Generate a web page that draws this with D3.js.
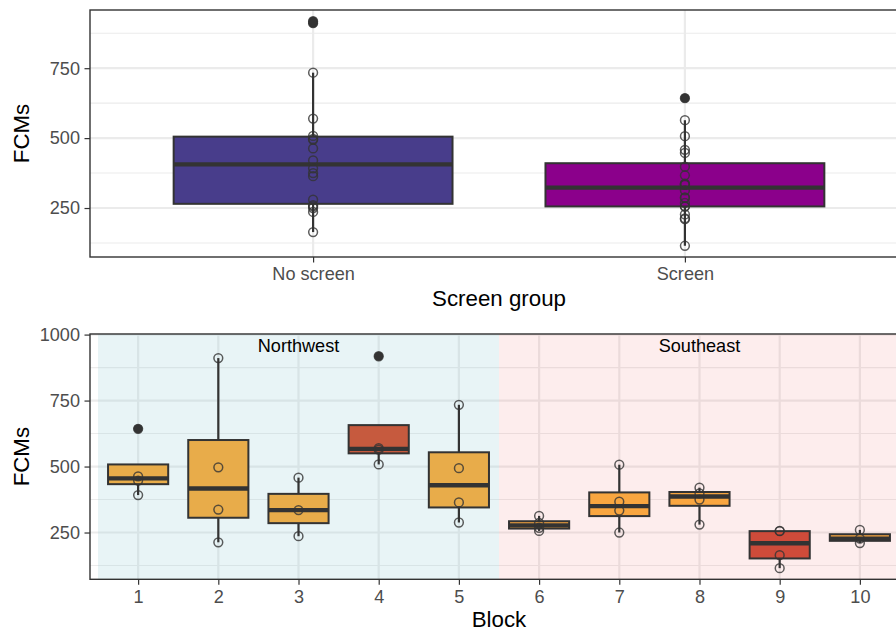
<!DOCTYPE html>
<html>
<head>
<meta charset="utf-8">
<script src="https://cdn.jsdelivr.net/npm/d3@7"></script>
<style>
  html, body { margin: 0; padding: 0; background: #fff; }
  svg { display: block; font-family: "Liberation Sans", Arial, sans-serif; }
</style>
</head>
<body>
<svg id="chart" width="896" height="631"></svg>
<script>
// ---------------- data ----------------
const screenGroups = ["No screen", "Screen"];
const noScreenFCM = [164, 236, 250, 256, 260, 280, 364, 375, 392, 420, 463, 494, 497, 508, 570, 734, 911, 918];
const screenFCM = [115, 210, 213, 227, 255, 256, 268, 286, 288, 313, 333, 335, 337, 367, 398, 447, 458, 507, 564, 643];

const blocks = [1, 2, 3, 4, 5, 6, 7, 8, 9, 10];
const blockRegion = ["Northwest", "Northwest", "Northwest", "Northwest", "Northwest",
                     "Southeast", "Southeast", "Southeast", "Southeast", "Southeast"];
const blockGroup = ["a", "a", "a", "b", "a", "a", "a", "a", "b", "a"];
const blockFCM = [
  [392, 447, 463, 643],
  [213, 337, 497, 911],
  [236, 335, 458],
  [508, 564, 570, 918],
  [288, 364, 494, 734],
  [256, 268, 286, 313],
  [250, 333, 367, 507],
  [280, 375, 398, 420],
  [115, 164, 255, 256],
  [210, 227, 260]
];
const regions = ["Northwest", "Southeast"];
const regionFrom = [0.5, 5.5];
const regionTo = [5.5, 10.5];
const regionLabelBlock = [3, 8];
const regionLabelY = 960;

const topTicks = [250, 500, 750];
const topMinor = [125, 375, 625, 875];
const bottomTicks = [250, 500, 750, 1000];
const bottomMinor = [125, 375, 625, 875];

// ---------------- styles ----------------
const groupFill = { "No screen": "#483D8B", "Screen": "#8B008B" };
const blockFill = {
  "Northwest|a": "#E8AC4A", "Northwest|b": "#C65A3E",
  "Southeast|a": "#F9A640", "Southeast|b": "#CF4B3A"
};
const regionFill = { "Northwest": "#8ecad4", "Southeast": "#f08080" };
const regionOpacity = { "Northwest": 0.2, "Southeast": 0.14 };

const svg = d3.select("#chart");
const L = 90, R = 908;
const dark = "#333333";
const gridCol = "#EBEBEB";
const tickFont = "18.1px";
const titleFont = "22.3px";

function stats(vals) {
  const s = vals.slice().sort(d3.ascending);
  const q1 = d3.quantile(s, 0.25), med = d3.quantile(s, 0.5), q3 = d3.quantile(s, 0.75);
  const iqr = q3 - q1;
  const lo = q1 - 1.5 * iqr, hi = q3 + 1.5 * iqr;
  const inside = s.filter(v => v >= lo && v <= hi);
  return { q1, med, q3, wlo: d3.min(inside), whi: d3.max(inside),
           out: s.filter(v => v < lo || v > hi) };
}

function expand(ext) {
  const d = (ext[1] - ext[0]) * 0.05;
  return [ext[0] - d, ext[1] + d];
}

function drawBox(g, xc, halfW, y, st, fill) {
  g.append("line").attr("x1", xc).attr("x2", xc).attr("y1", y(st.q3)).attr("y2", y(st.whi))
    .attr("stroke", dark).attr("stroke-width", 2.2);
  g.append("line").attr("x1", xc).attr("x2", xc).attr("y1", y(st.q1)).attr("y2", y(st.wlo))
    .attr("stroke", dark).attr("stroke-width", 2.2);
  g.append("rect").attr("x", xc - halfW).attr("width", 2 * halfW)
    .attr("y", y(st.q3)).attr("height", y(st.q1) - y(st.q3))
    .attr("fill", fill).attr("stroke", dark).attr("stroke-width", 2);
  g.append("line").attr("x1", xc - halfW).attr("x2", xc + halfW)
    .attr("y1", y(st.med)).attr("y2", y(st.med))
    .attr("stroke", dark).attr("stroke-width", 4.4);
  st.out.forEach(v => {
    g.append("circle").attr("cx", xc).attr("cy", y(v)).attr("r", 4.6).attr("fill", dark);
  });
}

function drawPoints(g, xc, y, vals) {
  vals.forEach(v => {
    g.append("circle").attr("cx", xc).attr("cy", y(v)).attr("r", 4.4)
      .attr("fill", "none").attr("stroke", dark).attr("stroke-opacity", 0.8)
      .attr("stroke-width", 1.5);
  });
}

function styleAxis(ax) {
  ax.select(".domain").remove();
  ax.selectAll(".tick line").attr("stroke", dark).attr("stroke-width", 1.2);
  ax.selectAll(".tick text").attr("fill", "#4D4D4D").style("font-size", tickFont)
    .style("font-family", "'Liberation Sans', Arial, sans-serif");
}

// ================= TOP PANEL =================
{
  const T = 10, B = 257;
  const allVals = noScreenFCM.concat(screenFCM);
  const y = d3.scaleLinear().domain(expand(d3.extent(allVals))).range([B, T]);
  const x = d3.scaleLinear().domain([0.4, screenGroups.length + 0.6]).range([L, R]);
  const g = svg.append("g");

  topMinor.forEach(v => g.append("line").attr("x1", L).attr("x2", R).attr("y1", y(v)).attr("y2", y(v))
    .attr("stroke", gridCol).attr("stroke-width", 1.1));
  topTicks.forEach(v => g.append("line").attr("x1", L).attr("x2", R).attr("y1", y(v)).attr("y2", y(v))
    .attr("stroke", gridCol).attr("stroke-width", 2.2));
  screenGroups.forEach((s, i) => g.append("line").attr("x1", x(i + 1)).attr("x2", x(i + 1))
    .attr("y1", T).attr("y2", B).attr("stroke", gridCol).attr("stroke-width", 2.2));

  const halfW = (x(1.375) - x(1));
  const data = [noScreenFCM, screenFCM];
  screenGroups.forEach((s, i) => {
    drawBox(g, x(i + 1), halfW, y, stats(data[i]), groupFill[s]);
  });
  screenGroups.forEach((s, i) => drawPoints(g, x(i + 1), y, data[i]));

  g.append("rect").attr("x", L).attr("y", T).attr("width", R - L).attr("height", B - T)
    .attr("fill", "none").attr("stroke", dark).attr("stroke-width", 1.4);

  const ya = svg.append("g").attr("transform", `translate(${L},0)`)
    .call(d3.axisLeft(y).tickValues(topTicks).tickFormat(d3.format("d")).tickSize(5.5).tickPadding(4.5));
  styleAxis(ya);
  const xa = svg.append("g").attr("transform", `translate(0,${B})`)
    .call(d3.axisBottom(x).tickValues(screenGroups.map((s, i) => i + 1))
      .tickFormat((d) => screenGroups[d - 1]).tickSize(5.5).tickPadding(5));
  styleAxis(xa);

  svg.append("text").attr("x", (L + R) / 2).attr("y", 305.5).attr("text-anchor", "middle")
    .style("font-size", titleFont).attr("fill", "#000").text("Screen group");
  svg.append("text").attr("transform", `translate(29.3,${(T + B) / 2}) rotate(-90)`)
    .attr("text-anchor", "middle").style("font-size", titleFont).attr("fill", "#000").text("FCMs");
}

// ================= BOTTOM PANEL =================
{
  const T = 334, B = 579.3;
  const allVals = blockFCM.flat().concat([regionLabelY]);
  const y = d3.scaleLinear().domain(expand(d3.extent(allVals))).range([B, T]);
  const x = d3.scaleLinear().domain([0.4, blocks.length + 0.6]).range([L, R]);
  const g = svg.append("g");

  bottomMinor.forEach(v => g.append("line").attr("x1", L).attr("x2", R).attr("y1", y(v)).attr("y2", y(v))
    .attr("stroke", gridCol).attr("stroke-width", 1.1));
  bottomTicks.forEach(v => g.append("line").attr("x1", L).attr("x2", R).attr("y1", y(v)).attr("y2", y(v))
    .attr("stroke", gridCol).attr("stroke-width", 2.2));
  blocks.forEach(b => g.append("line").attr("x1", x(b)).attr("x2", x(b))
    .attr("y1", T).attr("y2", B).attr("stroke", gridCol).attr("stroke-width", 2.2));

  regions.forEach((r, i) => {
    g.append("rect").attr("x", x(regionFrom[i]))
      .attr("width", x(regionTo[i]) - x(regionFrom[i]) + (i === regions.length - 1 ? 100 : 0))
      .attr("y", T).attr("height", B - T)
      .attr("fill", regionFill[r]).attr("fill-opacity", regionOpacity[r]);
  });

  const halfW = (x(1.375) - x(1));
  blocks.forEach((b, i) => {
    drawBox(g, x(b), halfW, y, stats(blockFCM[i]), blockFill[blockRegion[i] + "|" + blockGroup[i]]);
  });
  blocks.forEach((b, i) => drawPoints(g, x(b), y, blockFCM[i]));

  regions.forEach((r, i) => {
    g.append("text").attr("x", x(regionLabelBlock[i])).attr("y", y(regionLabelY)).attr("dy", "0.36em")
      .attr("text-anchor", "middle").style("font-size", tickFont).attr("fill", "#000").text(r);
  });

  g.append("rect").attr("x", L).attr("y", T).attr("width", R - L).attr("height", B - T)
    .attr("fill", "none").attr("stroke", dark).attr("stroke-width", 1.4);

  const ya = svg.append("g").attr("transform", `translate(${L},0)`)
    .call(d3.axisLeft(y).tickValues(bottomTicks).tickFormat(d3.format("d")).tickSize(5.5).tickPadding(4.5));
  styleAxis(ya);
  const xa = svg.append("g").attr("transform", `translate(0,${B})`)
    .call(d3.axisBottom(x).tickValues(blocks).tickFormat(d3.format("d")).tickSize(5.5).tickPadding(5));
  styleAxis(xa);

  svg.append("text").attr("x", (L + R) / 2).attr("y", 627).attr("text-anchor", "middle")
    .style("font-size", titleFont).attr("fill", "#000").text("Block");
  svg.append("text").attr("transform", `translate(29.3,${(T + B) / 2}) rotate(-90)`)
    .attr("text-anchor", "middle").style("font-size", titleFont).attr("fill", "#000").text("FCMs");
}
</script>
</body>
</html>
